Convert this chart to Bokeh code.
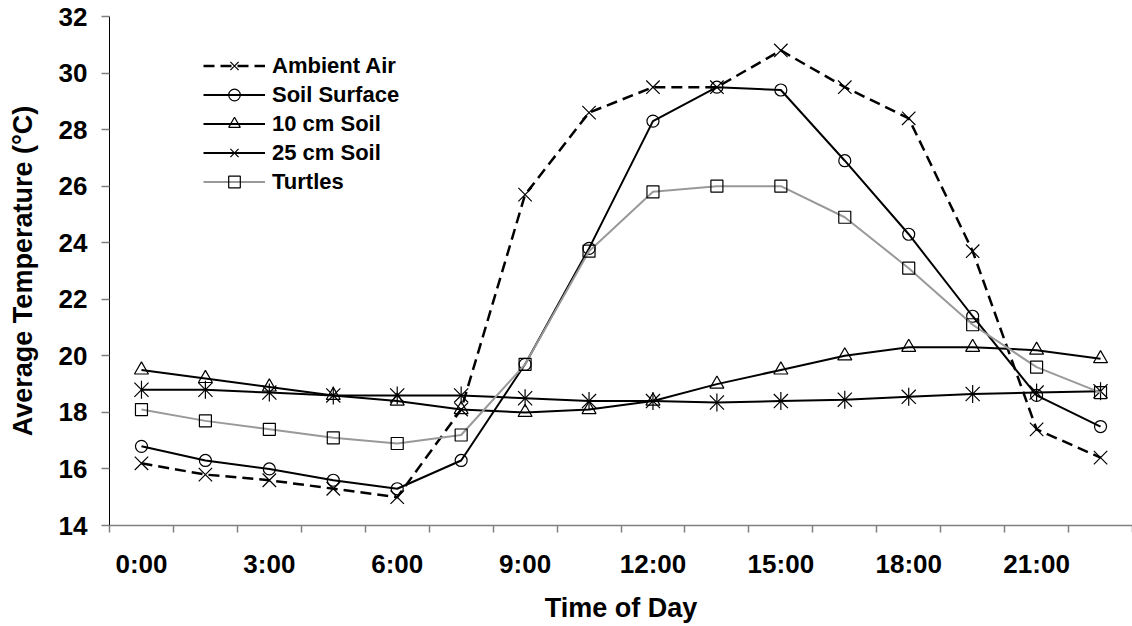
import math
from bokeh.plotting import figure
from bokeh.models import Range1d, FixedTicker, Legend, LegendItem
from bokeh.embed import file_html
from bokeh.resources import INLINE

# ---- data ----
times = ["0:00", "1:30", "3:00", "4:30", "6:00", "7:30", "9:00", "10:30",
         "12:00", "13:30", "15:00", "16:30", "18:00", "19:30", "21:00", "22:30"]
tick_labels = ["0:00", "3:00", "6:00", "9:00", "12:00", "15:00", "18:00", "21:00"]

ambient_air = [16.2, 15.8, 15.6, 15.3, 15.0, 18.1, 25.7, 28.6,
               29.5, 29.5, 30.8, 29.5, 28.4, 23.7, 17.4, 16.4]
soil_surface = [16.8, 16.3, 16.0, 15.6, 15.3, 16.3, 19.7, 23.8,
                28.3, 29.5, 29.4, 26.9, 24.3, 21.4, 18.6, 17.5]
soil_10cm = [19.5, 19.2, 18.9, 18.6, 18.4, 18.1, 18.0, 18.1,
             18.4, 19.0, 19.5, 20.0, 20.3, 20.3, 20.2, 19.9]
soil_25cm = [18.8, 18.8, 18.7, 18.6, 18.6, 18.6, 18.5, 18.4,
             18.4, 18.35, 18.4, 18.45, 18.55, 18.65, 18.7, 18.75]
turtles = [18.1, 17.7, 17.4, 17.1, 16.9, 17.2, 19.7, 23.7,
           25.8, 26.0, 26.0, 24.9, 23.1, 21.1, 19.6, 18.7]

y_ticks = [14, 16, 18, 20, 22, 24, 26, 28, 30, 32]

# ---- figure ----
FONT = "Liberation Sans"
x = list(range(len(times)))
n = len(times)

p = figure(width=1132, height=626, output_backend="svg", toolbar_location=None,
           x_range=Range1d(-0.5, n - 0.5), y_range=Range1d(y_ticks[0], y_ticks[-1]),
           min_border_left=109, min_border_right=0, min_border_top=16,
           min_border_bottom=101)
p.outline_line_color = None
p.grid.visible = False
p.background_fill_color = "white"
p.border_fill_color = "white"

# x axis: labels at every other category, tick marks between categories
label_pos = [times.index(t) for t in tick_labels]
p.xaxis.ticker = FixedTicker(ticks=label_pos, minor_ticks=[i - 0.5 for i in range(n + 1)])
p.xaxis.major_label_overrides = {i: t for i, t in zip(label_pos, tick_labels)}
p.xaxis.major_tick_out = 0
p.xaxis.major_tick_in = 0
p.xaxis.minor_tick_out = 7
p.xaxis.minor_tick_in = 0
p.xaxis.axis_line_color = "#808080"
p.xaxis.axis_line_width = 1.5
p.xaxis.minor_tick_line_color = "#808080"
p.xaxis.minor_tick_line_width = 1.5
p.xaxis.major_label_standoff = 16
p.xaxis.axis_label = "Time of Day"
p.xaxis.axis_label_standoff = 11

p.yaxis.ticker = FixedTicker(ticks=y_ticks, minor_ticks=[])
p.yaxis.major_tick_out = 8
p.yaxis.major_tick_in = 0
p.yaxis.axis_line_color = "black"
p.yaxis.major_tick_line_color = "#808080"
p.yaxis.major_tick_line_width = 1.5
p.yaxis.major_label_standoff = 14
p.yaxis.axis_label = "Average Temperature (\u00b0C)"
p.yaxis.axis_label_standoff = 18

for ax in (p.xaxis[0], p.yaxis[0]):
    ax.major_label_text_font = FONT
    ax.major_label_text_font_style = "bold"
    ax.major_label_text_font_size = "26px"
    ax.major_label_text_color = "black"
    ax.axis_label_text_font = FONT
    ax.axis_label_text_font_style = "bold"
    ax.axis_label_text_font_size = "27px"
    ax.axis_label_text_color = "black"

# ---- series ----
l_amb = p.line(x, ambient_air, line_color="black", line_width=2.5, line_dash="11 6")
s_amb = p.scatter(x, ambient_air, marker="x", size=19, line_color="black", line_width=1.2)

l_ss = p.line(x, soil_surface, line_color="black", line_width=2)
s_ss = p.scatter(x, soil_surface, marker="circle", size=12, line_color="black",
                 fill_alpha=0, line_width=1.2)

l_10 = p.line(x, soil_10cm, line_color="black", line_width=2)
s_10 = p.scatter(x, soil_10cm, marker="triangle", size=14, line_color="black",
                 fill_alpha=0, line_width=1.2)

l_25 = p.line(x, soil_25cm, line_color="black", line_width=2)
s_25a = p.scatter(x, soil_25cm, marker="x", size=20, line_color="black", line_width=1.2)
s_25b = p.scatter(x, soil_25cm, marker="dash", size=18, angle=math.pi / 2,
                  line_color="black", line_width=1.2)

l_tu = p.line(x, turtles, line_color="#999999", line_width=2)
s_tu = p.scatter(x, turtles, marker="square", size=12, line_color="black",
                 fill_alpha=0, line_width=1.2)

legend = Legend(items=[
    LegendItem(label="Ambient Air", renderers=[l_amb, s_amb]),
    LegendItem(label="Soil Surface", renderers=[l_ss, s_ss]),
    LegendItem(label="10 cm Soil", renderers=[l_10, s_10]),
    LegendItem(label="25 cm Soil", renderers=[l_25, s_25a, s_25b]),
    LegendItem(label="Turtles", renderers=[l_tu, s_tu]),
], location=(94, 329))
legend.glyph_width = 62
legend.glyph_height = 29
legend.label_height = 29
legend.spacing = 0
legend.padding = 0
legend.margin = 0
legend.label_standoff = 7
legend.border_line_color = None
legend.background_fill_alpha = 0
legend.label_text_font = FONT
legend.label_text_font_style = "bold"
legend.label_text_font_size = "22px"
legend.label_text_color = "black"
p.add_layout(legend)

open("out.html", "w").write(file_html(p, INLINE))
